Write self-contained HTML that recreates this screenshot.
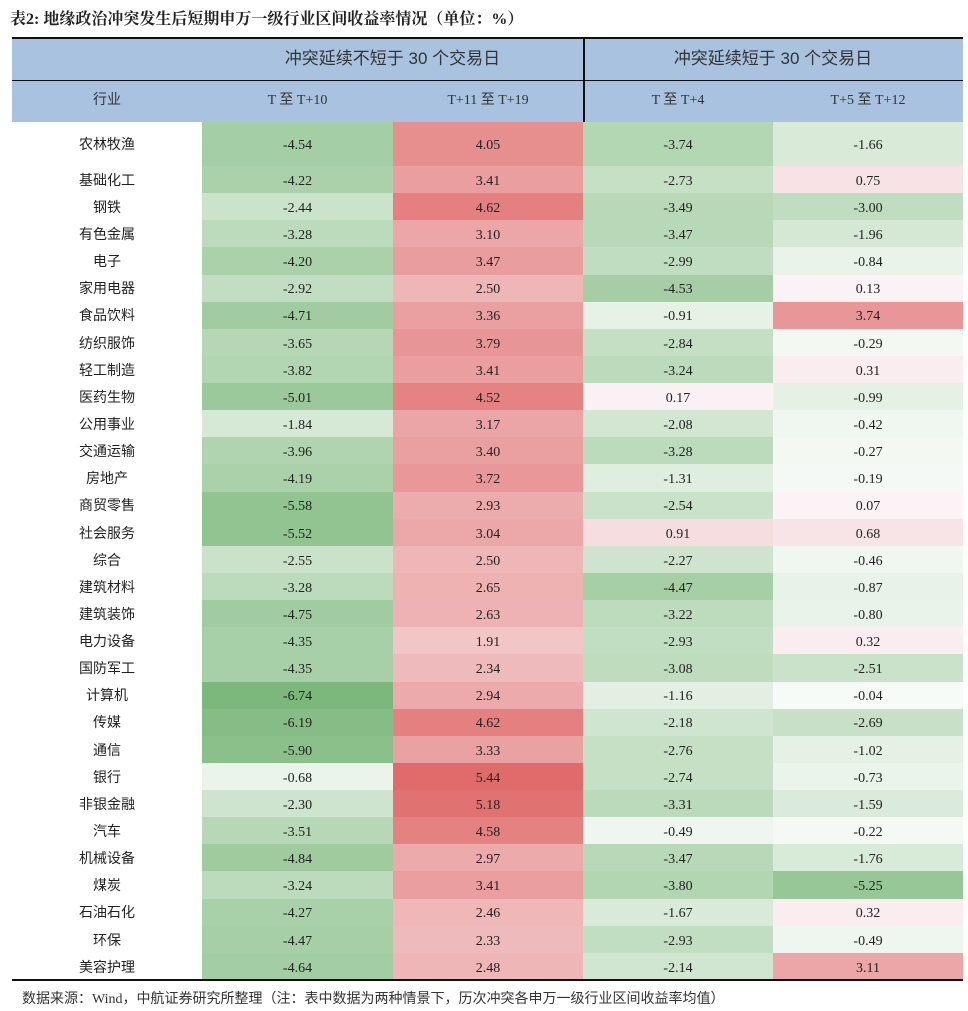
<!DOCTYPE html>
<html><head><meta charset="utf-8"><style>
body{margin:0;width:968px;height:1011px;background:#fff;position:relative;overflow:hidden;font-family:"Liberation Serif","Noto Serif CJK SC",serif;color:#222}
#title{position:absolute;left:10px;top:6px;font-size:16px;font-weight:bold;font-family:"Liberation Serif","Noto Serif CJK SC",serif}
#foot{position:absolute;left:22px;top:988px;font-size:14px;color:#333;font-family:"Liberation Serif","Noto Sans CJK SC",sans-serif}
.c{position:absolute;display:flex;align-items:center;justify-content:center;font-size:14px;line-height:16px;font-family:"Liberation Serif","Noto Sans CJK SC",sans-serif;box-sizing:border-box}
.d{padding-top:4px}
.h{background:#a8c2e0;color:#333}
.g{font-family:"Liberation Sans","Noto Sans CJK SC",sans-serif;font-size:17px}
.line{position:absolute;background:#111}
</style></head><body>
<div id="title">表2: 地缘政治冲突发生后短期申万一级行业区间收益率情况（单位：%）</div>
<div id="tbl"></div>
<div id="foot">数据来源：Wind，中航证券研究所整理（注：表中数据为两种情景下，历次冲突各申万一级行业区间收益率均值）</div>
<script>
const industries=["农林牧渔","基础化工","钢铁","有色金属","电子","家用电器","食品饮料","纺织服饰","轻工制造","医药生物","公用事业","交通运输","房地产","商贸零售","社会服务","综合","建筑材料","建筑装饰","电力设备","国防军工","计算机","传媒","通信","银行","非银金融","汽车","机械设备","煤炭","石油石化","环保","美容护理"];
const colT0_10=[-4.54,-4.22,-2.44,-3.28,-4.20,-2.92,-4.71,-3.65,-3.82,-5.01,-1.84,-3.96,-4.19,-5.58,-5.52,-2.55,-3.28,-4.75,-4.35,-4.35,-6.74,-6.19,-5.90,-0.68,-2.30,-3.51,-4.84,-3.24,-4.27,-4.47,-4.64];
const colT11_19=[4.05,3.41,4.62,3.10,3.47,2.50,3.36,3.79,3.41,4.52,3.17,3.40,3.72,2.93,3.04,2.50,2.65,2.63,1.91,2.34,2.94,4.62,3.33,5.44,5.18,4.58,2.97,3.41,2.46,2.33,2.48];
const colT0_4=[-3.74,-2.73,-3.49,-3.47,-2.99,-4.53,-0.91,-2.84,-3.24,0.17,-2.08,-3.28,-1.31,-2.54,0.91,-2.27,-4.47,-3.22,-2.93,-3.08,-1.16,-2.18,-2.76,-2.74,-3.31,-0.49,-3.47,-3.80,-1.67,-2.93,-2.14];
const colT5_12=[-1.66,0.75,-3.00,-1.96,-0.84,0.13,3.74,-0.29,0.31,-0.99,-0.42,-0.27,-0.19,0.07,0.68,-0.46,-0.87,-0.80,0.32,-2.51,-0.04,-2.69,-1.02,-0.73,-1.59,-0.22,-1.76,-5.25,0.32,-0.49,3.11];
const subHeaders=["行业","T 至 T+10","T+11 至 T+19","T 至 T+4","T+5 至 T+12"];
const groupHeaders=["冲突延续不短于 30 个交易日","冲突延续短于 30 个交易日"];
const cols=[colT0_10,colT11_19,colT0_4,colT5_12];
const X=[12,202,393,583,773,963];
const tbl=document.getElementById('tbl');
function color(v){
  let a,b,t;
  if(v<0){t=Math.min(1,-v/6.74);a=[248,251,248];b=[124,184,124];}
  else{t=Math.min(1,v/5.44);a=[251,245,248];b=[224,107,107];}
  return `rgb(${a.map((x,i)=>Math.round(x+(b[i]-x)*t)).join(',')})`;
}
function cell(x,y,w,h,txt,cls,bg){
  const d=document.createElement('div');
  d.className='c '+(cls||'');
  d.style.cssText=`left:${x}px;top:${y}px;width:${w}px;height:${h}px;`+(bg?`background:${bg};`:'');
  d.textContent=txt;
  tbl.appendChild(d);return d;
}
let g=cell(12,38,951,42,'','h');


g=cell(202,38,381,42,groupHeaders[0],'h g');


g=cell(583,38,380,42,groupHeaders[1],'h g');


for(let i=0;i<5;i++){
  const d=cell(X[i],80,X[i+1]-X[i],42,subHeaders[i],'h');
  
  
}
const RH=(980-166)/30;
const rowTop=i=>i===0?122:166+(i-1)*RH;
const rowH=i=>i===0?44:RH+0.5;
industries.forEach((name,i)=>{
  const y=rowTop(i),h=rowH(i);
  const l=cell(X[0],y,X[1]-X[0],h,name,'d');
  
  
  cols.forEach((col,j)=>{
    const v=col[i];
    const d=cell(X[j+1],y,X[j+2]-X[j+1],h,v.toFixed(2),'d',color(v));
    
    
  });
});
[[12,37,951,2],[12,80,951,1],[12,979,951,2],[583,38,1.5,84]].forEach(a=>{
  const d=document.createElement('div');d.className='line';
  d.style.cssText=`left:${a[0]}px;top:${a[1]}px;width:${a[2]}px;height:${a[3]}px`;
  
  
  tbl.appendChild(d);
});
</script>
</body></html>
